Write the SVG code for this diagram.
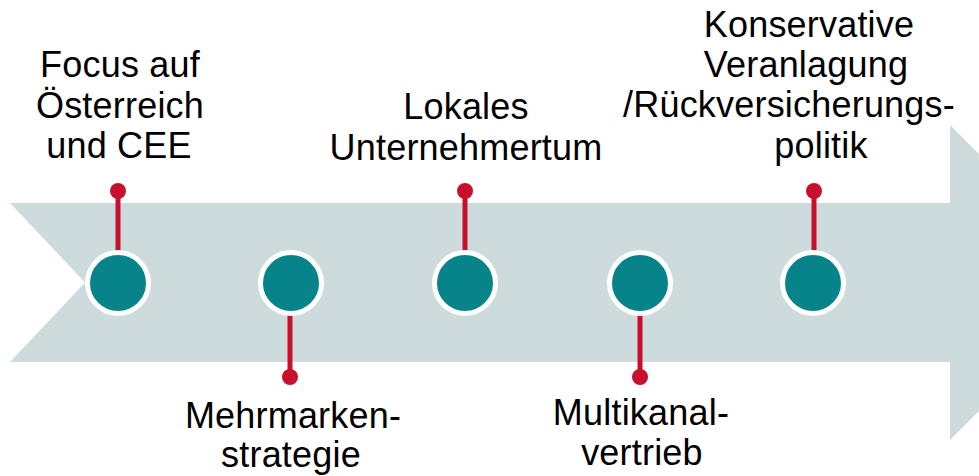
<svg xmlns="http://www.w3.org/2000/svg" width="979" height="476" viewBox="0 0 979 476">
<style>
.t{font-family:"Liberation Sans",Arial,sans-serif;font-size:36px;letter-spacing:0.2px;fill:#000;text-anchor:middle}
.stem{stroke:#c8102e;stroke-width:5}
.dot{fill:#c8102e}
.node{fill:#078489;stroke:#fff;stroke-width:5}
</style>
<rect width="979" height="476" fill="#fff"/>
<g id="arrow">
<polygon points="10,203 950,203 950,125 1107,282.5 950,440 950,362 10,362 85,282.5" fill="#cddbdc"/>
</g>
<g id="connectors">
<line class="stem" x1="118" y1="191" x2="118" y2="252"/>
<circle class="dot" cx="118" cy="191" r="8"/>
<line class="stem" x1="290" y1="314" x2="290" y2="377"/>
<circle class="dot" cx="290" cy="377" r="8"/>
<line class="stem" x1="465" y1="191" x2="465" y2="252"/>
<circle class="dot" cx="465" cy="191" r="8"/>
<line class="stem" x1="640" y1="314" x2="640" y2="377"/>
<circle class="dot" cx="640" cy="377" r="8"/>
<line class="stem" x1="814" y1="191" x2="814" y2="252"/>
<circle class="dot" cx="814" cy="191" r="8"/>
</g>
<g id="n1">
<circle class="node" cx="118" cy="283" r="30.5"/>
<text class="t"><tspan x="120" y="77">Focus auf</tspan><tspan x="120" y="118">Österreich</tspan><tspan x="119" y="158">und CEE</tspan></text>
</g>
<g id="n2">
<circle class="node" cx="291" cy="283" r="30.5"/>
<text class="t"><tspan x="293" y="428">Mehrmarken-</tspan><tspan x="291" y="467">strategie</tspan></text>
</g>
<g id="n3">
<circle class="node" cx="465" cy="283" r="30.5"/>
<text class="t"><tspan x="466" y="119">Lokales</tspan><tspan x="466" y="160">Unternehmertum</tspan></text>
</g>
<g id="n4">
<circle class="node" cx="640" cy="283" r="30.5"/>
<text class="t"><tspan x="641" y="425">Multikanal-</tspan><tspan x="642" y="465">vertrieb</tspan></text>
</g>
<g id="n5">
<circle class="node" cx="813" cy="283" r="30.5"/>
<text class="t"><tspan x="809" y="37">Konservative</tspan><tspan x="806" y="77">Veranlagung</tspan><tspan x="789" y="117">/Rückversicherungs-</tspan><tspan x="821" y="158">politik</tspan></text>
</g>
</svg>
